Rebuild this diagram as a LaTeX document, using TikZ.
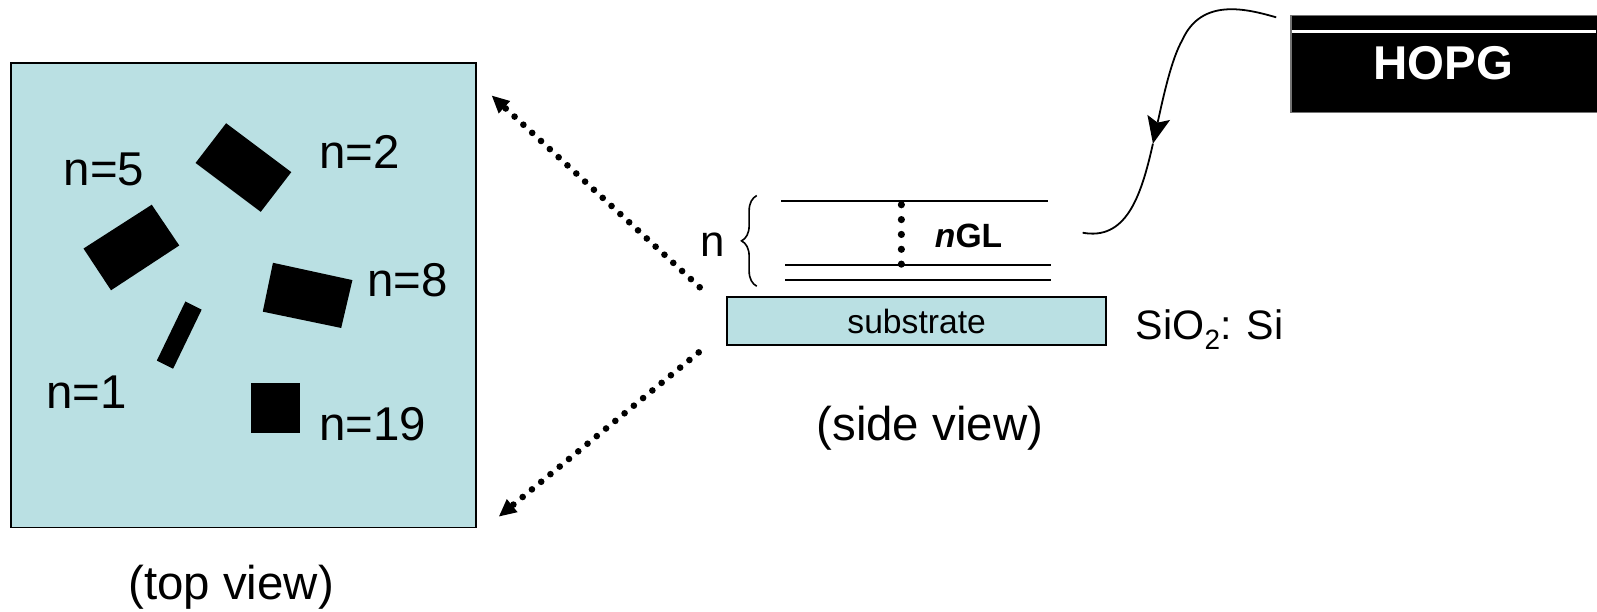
\documentclass[tikz,border=0pt]{standalone}
\usepackage{fontspec}
\setmainfont{Liberation Sans}
\usetikzlibrary{arrows.meta,decorations.pathreplacing}
\definecolor{paleblue}{HTML}{BAE0E3}
\tikzset{
	bigtxt/.style={inner sep=0pt,font=\fontsize{26.5}{30}\selectfont},
	midtxt/.style={inner sep=0pt,font=\fontsize{18.8}{22}\selectfont},
	panel/.style={draw=black,line width=1.05pt,fill=paleblue,inner sep=0pt},
	flake/.style={fill=black},
	layer/.style={line width=1pt},
	dotline/.style={line width=3.7pt,line cap=round,dash pattern=on 0pt off 6.7pt},
	dotarrow/.style={dotline,-{Triangle[length=9.5pt,width=9.5pt,line width=0pt]}},
}
\begin{document}
\begin{tikzpicture}[x=.02cm,y=-.02cm]

	\useasboundingbox (0,0) rectangle (1568,600);

	% top view
	\node (top) [panel,minimum width=9.12cm,minimum height=9.12cm] at (239,290) {};
	\fill[flake] (222,121) -- (286,169) -- (256,208) -- (192,160) -- cycle;
	\fill[flake] (149,201) -- (176,241) -- (109,285) -- (82,244) -- cycle;
	\fill[flake] (268,258) -- (346,275) -- (335,322) -- (258,306) -- cycle;
	\fill[flake] (182,296) -- (198,304) -- (170,362) -- (154,354) -- cycle;
	\fill[flake] (246,376) -- (295,376) -- (295,425) -- (246,425) -- cycle;
	\node (nfive) [bigtxt] at (102,166) {n=5};
	\node (ntwo) [bigtxt] at (353,149) {n=2};
	\node (neight) [bigtxt] at (400,275) {n=8};
	\node (none) [bigtxt] at (85,385) {n=1};
	\node (nnineteen) [bigtxt] at (366,416) {n=19};
	\node (toplabel) [bigtxt] at (227,577) {(top view)};

	% side view
	\node (substrate) [panel,midtxt,minimum width=7.44cm,minimum height=.94cm] at (900,315.5) {substrate};
	\node (sio) [bigtxt,font=\fontsize{23}{28}\selectfont,anchor=base west] at (1115,333) {SiO\raisebox{-5.8pt}{\fontsize{15.6}{16}\selectfont 2}: Si};
	\node (sidelabel) [bigtxt] at (913,420) {(side view)};
	\node (n) [bigtxt,font=\fontsize{24.5}{28}\selectfont] at (700,240) {n};
	\node (ngl) [midtxt,font=\fontsize{18.8}{22}\bfseries\selectfont] at (951,232) {\textit{n}GL};

	\coordinate (la) at (767,197.5);
	\coordinate (lb) at (1029,197.5);
	\coordinate (lc) at (771,260);
	\coordinate (ld) at (1032,260);
	\coordinate (le) at (771,275);
	\coordinate (lf) at (1032,275);
	\draw[layer] (la) -- (lb);
	\draw[layer] (lc) -- (ld);
	\draw[layer] (le) -- (lf);

	\coordinate (dtop) at (885,201);
	\coordinate (dbot) at (885,260);
	\draw[line width=4pt,line cap=round,dash pattern=on 0pt off 8.3pt] (dtop) -- (dbot);

	\coordinate (bt) at (743,192);
	\coordinate (bb) at (743,281);
	\draw[line width=.9pt,decorate,decoration={brace,mirror,amplitude=8.5pt,raise=0pt}] (bt) -- (bb);

	% view arrows
	\coordinate (su) at (687,282);
	\coordinate (tu) at (483,94);
	\coordinate (sl) at (686,346);
	\coordinate (tl) at (490,507);
	\draw[dotarrow] (su) -- (tu);
	\draw[dotarrow] (sl) -- (tl);

	% HOPG
	\node (hopg) [draw=black!55,line width=.6pt,fill=black,minimum width=6.02cm,minimum height=1.91cm,anchor=north west,inner sep=0pt] at (1267,14.5) {};
	\node (hopgtxt) [text=white,inner sep=0pt,font=\fontsize{26.5}{30}\bfseries\selectfont] at (1417,62.5) {HOPG};
	\coordinate (wa) at (1268.5,30.8);
	\coordinate (wb) at (1567,30.8);
	\draw[white,line width=1.9pt] (wa) -- (wb);

	\coordinate (ca) at (1253,17);
	\coordinate (cb) at (1161,39);
	\coordinate (cc) at (1132,141);
	\coordinate (cd) at (1063,228.5);
	\draw[line width=1pt,-{Stealth[length=15pt,width=13pt,inset=3pt,line width=0pt]}] (ca) .. controls (1225,9) and (1180,-3) .. (cb) .. controls (1150,58) and (1142,96) .. (cc);
	\draw[line width=1pt] (cc) .. controls (1120,195) and (1105,236) .. (cd);

\end{tikzpicture}
\end{document}
